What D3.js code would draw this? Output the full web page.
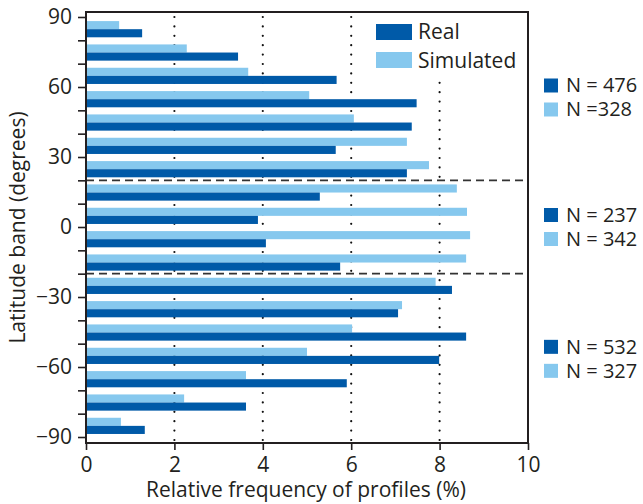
<!DOCTYPE html>
<html>
<head>
<meta charset="utf-8">
<script src="https://cdn.jsdelivr.net/npm/d3@7"></script>
<style>
  html, body { margin: 0; padding: 0; background: #fff; }
  text { font-family: "Open Sans", "Noto Sans", sans-serif; fill: #231f20; }
</style>
</head>
<body>
<svg id="chart" width="643" height="504"></svg>
<script>
// Latitude bands (lower edge, degrees), north to south
const bandStarts = [80, 70, 60, 50, 40, 30, 20, 10, 0, -10, -20, -30, -40, -50, -60, -70, -80, -90];
// Relative frequency of profiles (%) per band
const realValues = [1.27, 3.44, 5.67, 7.48, 7.37, 5.65, 7.26, 5.29, 3.89, 4.07, 5.75, 8.28, 7.06, 8.60, 7.99, 5.90, 3.62, 1.33];
const simulatedValues = [0.75, 2.28, 3.67, 5.05, 6.06, 7.26, 7.76, 8.39, 8.62, 8.69, 8.60, 7.91, 7.15, 6.02, 5.00, 3.62, 2.22, 0.79];
const seriesNames = ["Simulated", "Real"];
const xTicks = [0, 2, 4, 6, 8, 10];
const yMajorTicks = [90, 60, 30, 0, -30, -60, -90];
const yMinorTicks = [90, 80, 70, 60, 50, 40, 30, 20, 10, 0, -10, -20, -30, -40, -50, -60, -70, -80, -90];
const gridValues = [2, 4, 6, 8];
const regionBounds = [20, -20];
const regionCounts = [
  { real: "N = 476", sim: "N =328" },
  { real: "N = 237", sim: "N = 342" },
  { real: "N = 532", sim: "N = 327" }
];
const regionCenters = [55.5, 0, -56.5];

const colors = { Real: "#005aa8", Simulated: "#86c8ee" };
const ink = "#231f20";

const svg = d3.select("#chart");
const plotLeft = 86, plotRight = 528, plotTop = 12, plotBottom = 443;

const x = d3.scaleLinear().domain([0, 10]).range([plotLeft, plotRight]);
const y = d3.scaleLinear().domain([-92.57, 92.14]).range([plotBottom, plotTop]);

const rows = bandStarts.map((b, i) => ({ band: b, Real: realValues[i], Simulated: simulatedValues[i] }));

// dotted vertical gridlines
svg.append("g").selectAll("line").data(gridValues).join("line")
  .attr("x1", d => x(d)).attr("x2", d => x(d))
  .attr("y1", plotTop + 5).attr("y2", plotBottom - 2)
  .attr("stroke", "#111").attr("stroke-width", 2.2)
  .attr("stroke-linecap", "round")
  .attr("stroke-dasharray", "0,9.4");

// bars: simulated above real inside each 10-degree band
const bars = svg.append("g");
rows.forEach(r => {
  const bandTop = y(r.band + 10);
  const sub = d3.scaleBand().domain(seriesNames).range([bandTop + 4.1, bandTop + 20.3]);
  seriesNames.forEach(s => {
    bars.append("rect")
      .attr("x", x(0))
      .attr("y", sub(s))
      .attr("width", x(r[s]) - x(0))
      .attr("height", sub.bandwidth())
      .attr("fill", colors[s]);
  });
});

// region separators
svg.append("g").selectAll("line").data(regionBounds).join("line")
  .attr("x1", plotLeft).attr("x2", plotRight)
  .attr("y1", d => y(d)).attr("y2", d => y(d))
  .attr("stroke", "#333").attr("stroke-width", 1.7)
  .attr("stroke-dasharray", "8,5");

// legend (white backing hides gridline behind it)
const legend = svg.append("g");
legend.append("rect").attr("x", 366).attr("y", plotTop + 1).attr("width", 160).attr("height", 67).attr("fill", "#fff");
[["Real", 24, 39], ["Simulated", 52, 68]].forEach(([name, sy, ty]) => {
  legend.append("rect").attr("x", 376).attr("y", sy).attr("width", 36).attr("height", 16).attr("fill", colors[name]);
  legend.append("text").attr("x", 418).attr("y", ty).attr("font-size", 21).text(name);
});

// frame
svg.append("rect").attr("x", plotLeft).attr("y", plotTop).attr("width", plotRight - plotLeft).attr("height", plotBottom - plotTop)
  .attr("fill", "none").attr("stroke", ink).attr("stroke-width", 2);

// y axis
const yAxis = svg.append("g").attr("transform", `translate(${plotLeft},0)`);
yAxis.call(d3.axisLeft(y).tickValues(yMinorTicks).tickSize(8).tickFormat(d => yMajorTicks.includes(d) ? d3.format("d")(d) : ""));
yAxis.select(".domain").remove();
yAxis.selectAll(".tick line").attr("stroke", ink).attr("stroke-width", 1.6);
yAxis.selectAll(".tick text").attr("font-size", 21).attr("fill", ink)
  .attr("font-family", "Open Sans, Noto Sans, sans-serif").attr("x", -14);

// x axis
const xAxis = svg.append("g").attr("transform", `translate(0,${plotBottom})`);
xAxis.call(d3.axisBottom(x).tickValues(xTicks).tickSize(7).tickFormat(d3.format("d")));
xAxis.select(".domain").remove();
xAxis.selectAll(".tick line").attr("stroke", ink).attr("stroke-width", 1.6);
xAxis.selectAll(".tick text").attr("font-size", 21).attr("fill", ink)
  .attr("font-family", "Open Sans, Noto Sans, sans-serif").attr("dy", null).attr("y", 29);

// axis titles
svg.append("text").attr("x", 306).attr("y", 497).attr("text-anchor", "middle")
  .attr("font-size", 21).text("Relative frequency of profiles (%)");
svg.append("text").attr("transform", `translate(25,${(plotTop + plotBottom) / 2}) rotate(-90)`)
  .attr("text-anchor", "middle").attr("font-size", 21).text("Latitude band (degrees)");

// per-region sample counts
const counts = svg.append("g");
regionCounts.forEach((c, i) => {
  const yc = y(regionCenters[i]);
  [["Real", c.real, -12], ["Simulated", c.sim, 12]].forEach(([name, label, off]) => {
    counts.append("rect").attr("x", 544).attr("y", yc + off - 7).attr("width", 14).attr("height", 14).attr("fill", colors[name]);
    counts.append("text").attr("x", 566).attr("y", yc + off + 7).attr("font-size", 20).text(label);
  });
});
</script>
</body>
</html>
